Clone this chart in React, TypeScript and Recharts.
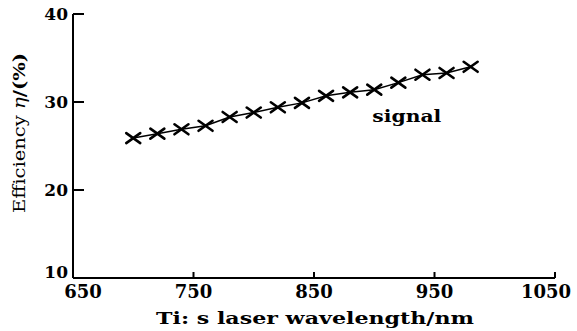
import { LineChart, Line, XAxis, YAxis, ReferenceDot, Label } from 'recharts';

// Ti:sapphire laser wavelength (nm) vs signal efficiency (%)
const wavelengths = [700, 720, 740, 760, 780, 800, 820, 840, 860, 880, 900, 920, 940, 960, 980];
const efficiency = [25.9, 26.4, 26.9, 27.3, 28.3, 28.8, 29.4, 29.9, 30.7, 31.1, 31.4, 32.2, 33.1, 33.3, 34.0];
const xTicks = [650, 750, 850, 950, 1050];
const yTicks = [10, 20, 30, 40];

const data = wavelengths.map((w, i) => ({ w, eff: efficiency[i] }));

const FONT = '"DejaVu Serif", "Liberation Serif", serif';

// X-shaped marker
const Cross = (props: any) => {
  const { cx, cy } = props;
  if (cx == null || cy == null) return null;
  return (
    <g stroke="#000" strokeWidth={2.6} strokeLinecap="round">
      <line x1={cx - 7} y1={cy - 5} x2={cx + 7} y2={cy + 5} />
      <line x1={cx - 7} y1={cy + 5} x2={cx + 7} y2={cy - 5} />
    </g>
  );
};

const XTick = ({ x, y, payload }: any) => {
  // end labels are nudged inwards as in the original figure
  const shift = payload.value === 650 ? 10 : payload.value === 1050 ? -9 : 0;
  return (
    <text x={x + shift} y={y} dy={18} textAnchor="middle" fontFamily={FONT} fontWeight="bold" fontSize={18} fill="#000">
      {payload.value}
    </text>
  );
};

const YTick = ({ x, y, payload }: any) => {
  const shift = payload.value === 10 ? -6 : 0;
  return (
    <text x={x} y={y + shift} dy={6} textAnchor="end" fontFamily={FONT} fontWeight="bold" fontSize={17} fill="#000">
      {payload.value}
    </text>
  );
};

const XTitle = ({ viewBox }: any) => {
  const cx = viewBox.x + viewBox.width / 2 + 1;
  return (
    <text x={cx} y={viewBox.y + 46} textAnchor="middle" fontFamily={FONT} fontWeight="bold" fontSize={17} fill="#000"
      textLength={318} lengthAdjust="spacingAndGlyphs">
      Ti: s laser wavelength/nm
    </text>
  );
};

const YTitle = ({ viewBox }: any) => {
  const cy = viewBox.y + viewBox.height / 2 - 13;
  return (
    <text transform={`translate(${viewBox.x + 25}, ${cy}) rotate(-90)`} textAnchor="middle" fontFamily={FONT} fontSize={16} fill="#000"
      textLength={160} lengthAdjust="spacingAndGlyphs">
      Efficiency <tspan fontStyle="italic">η</tspan><tspan fontWeight="bold">/(%)</tspan>
    </text>
  );
};

const SignalLabel = ({ viewBox }: any) => (
  <text x={viewBox.x + viewBox.width / 2} y={viewBox.y + viewBox.height / 2} dy={5} textAnchor="middle" fontFamily={FONT}
    fontWeight="bold" fontSize={17} fill="#000" textLength={69} lengthAdjust="spacingAndGlyphs">
    signal
  </text>
);

export default function App() {
  return (
    <div style={{ position: 'absolute', left: 0, top: 0, background: '#fff' }}>
      <LineChart width={577} height={331} data={data} margin={{ top: 14, right: 22, bottom: 0, left: 0 }}>
        <XAxis
          dataKey="w"
          type="number"
          domain={[650, 1050]}
          ticks={xTicks}
          height={53}
          axisLine={{ stroke: '#000', strokeWidth: 2 }}
          tickLine={{ stroke: '#000', strokeWidth: 2 }}
          tickSize={-6}
          tickMargin={8}
          tick={<XTick />}
        >
          <Label content={<XTitle />} />
        </XAxis>
        <YAxis
          type="number"
          domain={[10, 40]}
          ticks={yTicks}
          width={73}
          axisLine={{ stroke: '#000', strokeWidth: 2 }}
          tickLine={{ stroke: '#000', strokeWidth: 2 }}
          tickSize={-11}
          tickMargin={16}
          tick={<YTick />}
        >
          <Label content={<YTitle />} />
        </YAxis>
        <Line
          dataKey="eff"
          stroke="#000"
          strokeWidth={1.5}
          dot={<Cross />}
          activeDot={false}
          isAnimationActive={false}
        />
        <ReferenceDot x={927} y={28.3} r={0} fill="none" stroke="none" label={<SignalLabel />} />
      </LineChart>
    </div>
  );
}
